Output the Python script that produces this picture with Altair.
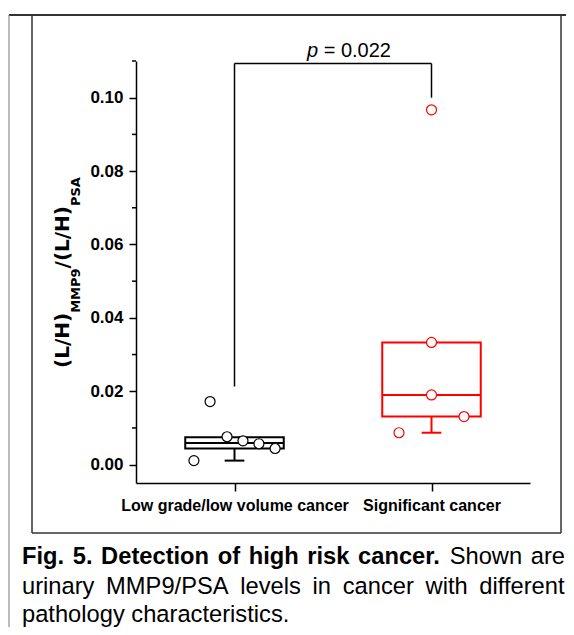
import altair as alt
import pandas as pd

# ---------------- data ----------------
group_names = ["Low grade/low volume cancer", "Significant cancer"]
group_colors = ["black", "red"]

low_values = [0.0172, 0.0011, 0.0076, 0.0065, 0.0057, 0.0044]
low_offsets = [-0.124, -0.206, -0.038, 0.043, 0.124, 0.206]
sig_values = [0.0967, 0.0333, 0.0190, 0.0131, 0.0087]
sig_offsets = [0.0, 0.0, 0.0, 0.165, -0.165]

box_q1 = [0.0044, 0.0131]
box_q3 = [0.0075, 0.0333]
box_median = [0.0059, 0.0190]
whisker_low = [0.0011, 0.0087]

y_ticks = [0.00, 0.02, 0.04, 0.06, 0.08, 0.10]
y_minor = [0.01, 0.03, 0.05, 0.07, 0.09, 0.11]
y_domain = [-0.005, 0.11]

bracket_top = 0.1093
bracket_left_end = 0.0213
bracket_right_end = 0.100
p_value_text = "= 0.022"

caption_lines = [
    [("Fig.", True), ("5.", True), ("Detection", True), ("of", True), ("high", True),
     ("risk", True), ("cancer.", True), ("Shown", False), ("are", False)],
    [(w, False) for w in "urinary MMP9/PSA levels in cancer with different".split()],
    [(w, False) for w in "pathology characteristics.".split()],
]
caption_justify = [True, True, False]

# ---------------- layout ----------------
W, H = 394, 422
PAD = {"left": 128, "top": 53, "right": 36, "bottom": 144}
OX, OY = 8 + PAD["left"], 8 + PAD["top"]  # plot origin in page coords
PAGE_R = 8 + PAD["left"] + W + PAD["right"]
PAGE_B = 8 + PAD["top"] + H + PAD["bottom"]


def px(X):
    return X - OX


def py(Y):
    return Y - OY


FONT = "Liberation Sans"
one = pd.DataFrame({"k": [0]})

xs = alt.Scale(domain=[-0.5, 1.5], nice=False, zero=False)
ys = alt.Scale(domain=y_domain, nice=False, zero=False)
col_scale = alt.Scale(domain=group_names, range=group_colors)

# tables built from the arrays
pts = pd.DataFrame({
    "group": [group_names[0]] * len(low_values) + [group_names[1]] * len(sig_values),
    "x": [o for o in low_offsets] + [1 + o for o in sig_offsets],
    "v": low_values + sig_values,
})
box = pd.DataFrame({
    "group": group_names,
    "c": [0, 1],
    "xl": [i - 0.25 for i in range(2)],
    "xr": [i + 0.25 for i in range(2)],
    "cl": [i - 0.05 for i in range(2)],
    "cr": [i + 0.05 for i in range(2)],
    "q1": box_q1, "q3": box_q3, "med": box_median, "wl": whisker_low,
})

label_expr = "datum.value == 0 ? '%s' : '%s'" % (group_names[0], group_names[1])

x_axis = alt.Axis(values=[0, 1], labelExpr=label_expr, title=None, grid=False,
                  tickSize=8, labelPadding=6, labelFontSize=16, labelFontWeight="bold",
                  labelFont=FONT, labelFlush=False, labelOverlap=False, labelLimit=0,
                  labelColor="black", domainColor="black", tickColor="black",
                  domainWidth=1.5, tickWidth=1.5)
y_axis = alt.Axis(values=y_ticks, format=".2f", title=None, grid=False,
                  tickSize=7, labelPadding=6, labelFontSize=17, labelFontWeight="bold",
                  labelFont=FONT, labelColor="black", domainColor="black", tickColor="black",
                  domainWidth=1.5, tickWidth=1.5)

stroke_enc = alt.Stroke("group:N", scale=col_scale, legend=None)
layers = []

# invisible carrier of the axes (first layer, so its axis settings win)
layers.append(alt.Chart(pts).mark_point(opacity=0).encode(
    x=alt.X("x:Q", scale=xs, axis=x_axis),
    y=alt.Y("v:Q", scale=ys, axis=y_axis)))

# box
layers.append(alt.Chart(box).mark_rect(fill="white", strokeWidth=2).encode(
    x=alt.X("xl:Q", scale=xs), x2="xr:Q",
    y=alt.Y("q1:Q", scale=ys), y2="q3:Q", stroke=stroke_enc))
layers.append(alt.Chart(box).mark_rule(strokeWidth=2).encode(
    x=alt.X("xl:Q", scale=xs), x2="xr:Q",
    y=alt.Y("med:Q", scale=ys), stroke=stroke_enc))
layers.append(alt.Chart(box).mark_rule(strokeWidth=2).encode(
    x=alt.X("c:Q", scale=xs),
    y=alt.Y("q1:Q", scale=ys), y2="wl:Q", stroke=stroke_enc))
layers.append(alt.Chart(box).mark_rule(strokeWidth=2).encode(
    x=alt.X("cl:Q", scale=xs), x2="cr:Q",
    y=alt.Y("wl:Q", scale=ys), stroke=stroke_enc))

# points
layers.append(alt.Chart(pts).mark_point(shape="circle", filled=True, fill="white",
                                        fillOpacity=1, size=100, strokeWidth=1.2).encode(
    x=alt.X("x:Q", scale=xs),
    y=alt.Y("v:Q", scale=ys),
    stroke=stroke_enc))

# minor ticks on y axis
layers.append(alt.Chart(pd.DataFrame({"v": y_minor})).mark_rule(strokeWidth=1.5, color="black").encode(
    y=alt.Y("v:Q", scale=ys), x=alt.value(-4), x2=alt.value(0)))

# significance bracket
br = pd.DataFrame({"x": [0, 1], "x2": [1, 1], "top": [bracket_top, bracket_top],
                   "end": [bracket_left_end, bracket_right_end]})
layers.append(alt.Chart(br.iloc[:1]).mark_rule(strokeWidth=1.5, color="black").encode(
    x=alt.X("x:Q", scale=xs), x2="x2:Q",
    y=alt.Y("top:Q", scale=ys)))
layers.append(alt.Chart(br).mark_rule(strokeWidth=1.5, color="black").encode(
    x=alt.X("x:Q", scale=xs),
    y=alt.Y("top:Q", scale=ys), y2="end:Q"))


def text(label, x, y, size, weight="normal", style="normal", angle=0, font=FONT,
         align="left", color="black"):
    kw = dict(text=label, fontSize=size, fontWeight=weight, fontStyle=style, font=font,
              align=align, baseline="alphabetic", color=color)
    if angle:
        kw["angle"] = angle
    return alt.Chart(one).mark_text(**kw).encode(x=alt.value(x), y=alt.value(y))


# p-value label
P_SIZE = 20
layers.append(text("p", px(307), py(57), P_SIZE, style="italic"))
layers.append(text(p_value_text, px(307) + 0.556 * P_SIZE + 0.278 * P_SIZE, py(57), P_SIZE))

# y-axis title with subscripts (DejaVu Sans Bold metrics, per em)
dv = {"(": 0.457, ")": 0.457, "/": 0.365, "L": 0.637, "H": 0.837, "M": 0.995,
      "P": 0.733, "S": 0.720, "A": 0.774, "9": 0.696}
title_parts = [("(L/H)", False), ("MMP9", True), ("/(L/H)", False), ("PSA", True)]
MAIN, SUB = 20, 13
seg_w = [sum(dv[c] for c in s) * (SUB if sub else MAIN) for s, sub in title_parts]
total = sum(seg_w)
y_cursor = 272.5 + total / 2
for (s, sub), w in zip(title_parts, seg_w):
    layers.append(text(s, px(80 if sub else 69), py(y_cursor), SUB if sub else MAIN,
                       weight="bold", angle=270, font="DejaVu Sans"))
    y_cursor -= w

# caption (Arial metrics, justified lines)
reg_w = {' ': 278, '.': 278, '/': 278, 'a': 556, 'b': 556, 'c': 500, 'd': 556, 'e': 556,
         'f': 278, 'g': 556, 'h': 556, 'i': 222, 'k': 500, 'l': 222, 'm': 833, 'n': 556,
         'o': 556, 'p': 556, 'r': 333, 's': 500, 't': 278, 'u': 556, 'v': 500, 'w': 722,
         'y': 500, 'A': 667, 'M': 833, 'P': 667, 'S': 667}
bold_w = {' ': 278, '.': 278, 'a': 556, 'c': 556, 'e': 556, 'f': 333, 'g': 611, 'h': 611,
          'i': 278, 'k': 556, 'n': 611, 'o': 611, 'r': 389, 's': 556, 't': 333, 'D': 722,
          'F': 611}
for ch in "0123456789":
    reg_w[ch] = 556
    bold_w[ch] = 556

CAP = 23.7
CAP_LEFT, CAP_RIGHT = 22, 565
cap_base = [564, 594, 622]
for words, just, base in zip(caption_lines, caption_justify, cap_base):
    widths = [sum((bold_w if b else reg_w)[c] for c in w) * CAP / 1000 for w, b in words]
    space = 0.278 * CAP
    if just and len(words) > 1:
        gap = (CAP_RIGHT - CAP_LEFT - sum(widths)) / (len(words) - 1)
    else:
        gap = space
    xcur = CAP_LEFT
    for (w, b), ww in zip(words, widths):
        layers.append(text(w, px(xcur), py(base), CAP, weight="bold" if b else "normal"))
        xcur += ww + gap


# figure frame
def hline(x1, x2, y, color="#333", width=1.5):
    return alt.Chart(one).mark_rule(color=color, strokeWidth=width).encode(
        x=alt.value(px(x1)), x2=alt.value(px(x2)), y=alt.value(py(y)))


def vline(x, y1, y2, color="#333", width=1.5):
    return alt.Chart(one).mark_rule(color=color, strokeWidth=width).encode(
        x=alt.value(px(x)), y=alt.value(py(y1)), y2=alt.value(py(y2)))


layers += [
    hline(9, PAGE_R, 15, width=2),
    vline(9, 15, PAGE_B, color="#777", width=1),
    vline(32, 15, 533),
    vline(561, 15, 533),
    hline(32, 561, 533),
]

chart = alt.layer(*layers).properties(
    width=W, height=H, padding=PAD, autosize=alt.AutoSizeParams(type="none"),
    background="white",
).configure_view(strokeWidth=0)

chart.save("out.html", embed_options={"renderer": "svg", "actions": False})
